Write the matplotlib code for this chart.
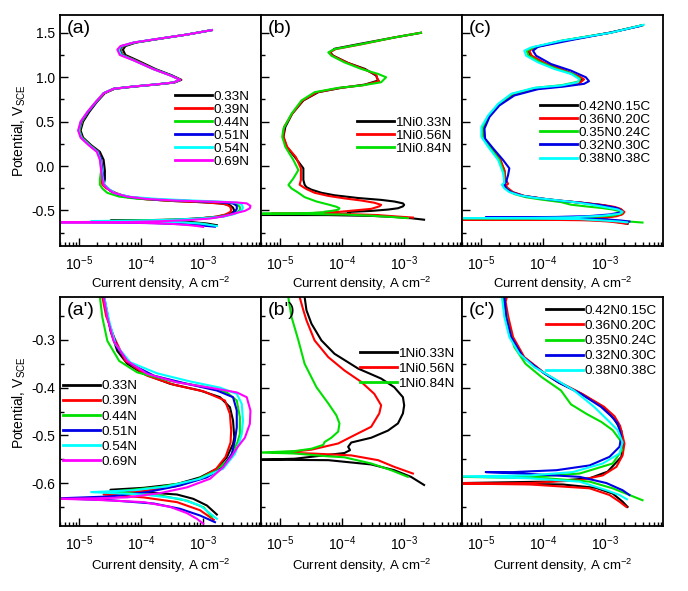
import matplotlib.pyplot as plt
import numpy as np
from matplotlib.ticker import MultipleLocator, LogLocator, FormatStrFormatter, NullFormatter

plt.rcParams['font.family'] = ['Liberation Sans', 'DejaVu Sans']
plt.rcParams['mathtext.fontset'] = 'custom'
plt.rcParams['mathtext.rm'] = 'Liberation Sans'
plt.rcParams['mathtext.it'] = 'Liberation Sans:italic'
plt.rcParams['axes.unicode_minus'] = False

# data: (log10 current density [A cm-2], potential [V_SCE])
# (a) series
labels_a = ['0.33N', '0.39N', '0.44N', '0.51N', '0.54N', '0.69N']
colors_a = ['black', '#ff0000', '#00e000', '#0000e6', '#00ffff', '#ff00ff']
c_033N = [(-2.86, 1.53), (-3.26, 1.48), (-3.72, 1.43), (-4.08, 1.39), (-4.25, 1.35), (-4.29, 1.31), (-4.25, 1.25),
          (-4.06, 1.19), (-3.76, 1.09), (-3.50, 1.02), (-3.35, 0.97), (-3.46, 0.94), (-3.72, 0.92), (-4.10, 0.895),
          (-4.42, 0.87), (-4.58, 0.82), (-4.71, 0.72), (-4.83, 0.61), (-4.93, 0.50), (-4.97, 0.40), (-4.93, 0.32),
          (-4.80, 0.235), (-4.66, 0.16), (-4.60, 0.07), (-4.58, -0.05), (-4.58, -0.15), (-4.60, -0.21), (-4.54, -0.246),
          (-4.49, -0.281), (-4.38, -0.323), (-4.22, -0.35), (-3.96, -0.371), (-3.53, -0.392), (-3.05, -0.406),
          (-2.73, -0.42), (-2.57, -0.441), (-2.52, -0.469), (-2.50, -0.504), (-2.52, -0.518), (-2.62, -0.546),
          (-2.78, -0.57), (-3.05, -0.588), (-3.42, -0.602), (-3.96, -0.61), (-4.49, -0.614), (-3.96, -0.619),
          (-3.42, -0.624), (-3.16, -0.633), (-2.94, -0.647), (-2.78, -0.666)]
c_039N = [(-2.86, 1.53), (-3.26, 1.48), (-3.73, 1.43), (-4.10, 1.39), (-4.29, 1.35), (-4.33, 1.31), (-4.29, 1.25),
          (-4.09, 1.19), (-3.78, 1.09), (-3.52, 1.02), (-3.36, 0.97), (-3.47, 0.94), (-3.73, 0.92), (-4.11, 0.895),
          (-4.43, 0.87), (-4.59, 0.82), (-4.72, 0.72), (-4.85, 0.61), (-4.95, 0.50), (-4.99, 0.40), (-4.95, 0.32),
          (-4.82, 0.235), (-4.68, 0.16), (-4.64, 0.07), (-4.63, -0.05), (-4.64, -0.15), (-4.62, -0.21), (-4.56, -0.25),
          (-4.43, -0.295), (-4.25, -0.344), (-3.90, -0.375), (-3.47, -0.394), (-2.99, -0.408), (-2.65, -0.427),
          (-2.57, -0.455), (-2.55, -0.49), (-2.56, -0.515), (-2.64, -0.545), (-2.79, -0.57), (-3.07, -0.592),
          (-3.45, -0.607), (-3.98, -0.617), (-4.60, -0.624), (-3.96, -0.63), (-3.42, -0.64), (-3.05, -0.657),
          (-2.83, -0.677)]
c_044N = [(-2.86, 1.53), (-3.26, 1.48), (-3.73, 1.43), (-4.10, 1.39), (-4.30, 1.35), (-4.34, 1.31), (-4.30, 1.25),
          (-4.10, 1.19), (-3.79, 1.09), (-3.52, 1.02), (-3.37, 0.97), (-3.48, 0.94), (-3.74, 0.92), (-4.12, 0.895),
          (-4.44, 0.87), (-4.60, 0.82), (-4.72, 0.72), (-4.85, 0.61), (-4.95, 0.50), (-4.99, 0.40), (-4.95, 0.32),
          (-4.82, 0.235), (-4.69, 0.16), (-4.65, 0.07), (-4.64, -0.05), (-4.66, -0.15), (-4.66, -0.21), (-4.62, -0.253),
          (-4.54, -0.302), (-4.35, -0.344), (-4.06, -0.368), (-3.53, -0.386), (-2.99, -0.398), (-2.62, -0.41),
          (-2.46, -0.427), (-2.41, -0.462), (-2.41, -0.497), (-2.45, -0.515), (-2.57, -0.546), (-2.78, -0.574),
          (-3.15, -0.595), (-3.69, -0.608), (-4.22, -0.615), (-4.50, -0.618), (-3.69, -0.626), (-3.26, -0.637),
          (-2.99, -0.651), (-2.86, -0.671)]
c_051N = [(-2.86, 1.53), (-3.26, 1.48), (-3.74, 1.43), (-4.11, 1.39), (-4.31, 1.35), (-4.35, 1.31), (-4.31, 1.25),
          (-4.11, 1.19), (-3.79, 1.09), (-3.52, 1.02), (-3.37, 0.97), (-3.48, 0.94), (-3.74, 0.92), (-4.12, 0.895),
          (-4.44, 0.87), (-4.60, 0.82), (-4.72, 0.72), (-4.85, 0.61), (-4.96, 0.50), (-5.00, 0.40), (-4.96, 0.32),
          (-4.83, 0.235), (-4.69, 0.16), (-4.64, 0.07), (-4.62, -0.05), (-4.60, -0.15), (-4.59, -0.21), (-4.51, -0.267),
          (-4.38, -0.316), (-4.17, -0.35), (-3.79, -0.375), (-3.26, -0.392), (-2.78, -0.406), (-2.52, -0.42),
          (-2.46, -0.448), (-2.46, -0.483), (-2.49, -0.511), (-2.54, -0.539), (-2.68, -0.567), (-2.94, -0.588),
          (-3.37, -0.605), (-3.90, -0.619), (-4.49, -0.628), (-5.32, -0.632), (-4.49, -0.636), (-3.79, -0.643),
          (-3.37, -0.654), (-3.05, -0.668), (-2.81, -0.682)]
c_054N = [(-2.86, 1.53), (-3.26, 1.48), (-3.74, 1.43), (-4.12, 1.39), (-4.32, 1.35), (-4.36, 1.31), (-4.32, 1.25),
          (-4.12, 1.19), (-3.80, 1.09), (-3.53, 1.02), (-3.37, 0.97), (-3.48, 0.94), (-3.74, 0.92), (-4.12, 0.895),
          (-4.44, 0.87), (-4.60, 0.82), (-4.73, 0.72), (-4.86, 0.61), (-4.97, 0.50), (-5.00, 0.40), (-4.96, 0.32),
          (-4.83, 0.235), (-4.70, 0.16), (-4.65, 0.07), (-4.63, -0.05), (-4.61, -0.15), (-4.59, -0.21), (-4.51, -0.26),
          (-4.41, -0.309), (-4.17, -0.347), (-3.74, -0.37), (-3.21, -0.387), (-2.73, -0.40), (-2.46, -0.413),
          (-2.38, -0.434), (-2.36, -0.469), (-2.38, -0.497), (-2.41, -0.511), (-2.49, -0.539), (-2.68, -0.57),
          (-3.05, -0.591), (-3.58, -0.607), (-4.11, -0.615), (-4.80, -0.619), (-3.96, -0.624), (-3.37, -0.633),
          (-3.05, -0.647), (-2.78, -0.675)]
c_069N = [(-2.86, 1.53), (-3.26, 1.48), (-3.74, 1.43), (-4.12, 1.39), (-4.33, 1.35), (-4.38, 1.31), (-4.34, 1.25),
          (-4.12, 1.19), (-3.80, 1.09), (-3.53, 1.02), (-3.37, 0.97), (-3.48, 0.94), (-3.74, 0.92), (-4.12, 0.895),
          (-4.44, 0.87), (-4.60, 0.82), (-4.73, 0.72), (-4.86, 0.61), (-4.97, 0.50), (-5.01, 0.40), (-4.97, 0.32),
          (-4.84, 0.235), (-4.71, 0.16), (-4.66, 0.07), (-4.64, -0.05), (-4.62, -0.15), (-4.60, -0.21), (-4.54, -0.253),
          (-4.44, -0.302), (-4.22, -0.344), (-3.90, -0.371), (-3.42, -0.389), (-2.89, -0.40), (-2.46, -0.41),
          (-2.30, -0.42), (-2.24, -0.448), (-2.25, -0.476), (-2.33, -0.505), (-2.45, -0.525), (-2.55, -0.545),
          (-2.68, -0.567), (-2.89, -0.591), (-3.26, -0.609), (-3.69, -0.621), (-4.22, -0.63), (-4.75, -0.632),
          (-5.32, -0.633), (-4.75, -0.635), (-3.95, -0.64), (-3.53, -0.65), (-3.26, -0.663), (-3.10, -0.675),
          (-3.00, -0.685)]

# (b) series
labels_b = ['1Ni0.33N', '1Ni0.56N', '1Ni0.84N']
colors_b = ['black', '#ff0000', '#00e000']
c_Ni033N = [(-2.73, 1.50), (-3.16, 1.447), (-3.69, 1.378), (-4.12, 1.32), (-4.19, 1.28), (-4.14, 1.242), (-3.90, 1.16),
            (-3.63, 1.093), (-3.45, 1.018), (-3.42, 0.962), (-3.63, 0.917), (-4.01, 0.88), (-4.38, 0.831),
            (-4.62, 0.738), (-4.80, 0.589), (-4.91, 0.44), (-4.94, 0.328), (-4.89, 0.216), (-4.76, 0.104),
            (-4.62, -0.026), (-4.62, -0.157), (-4.60, -0.21), (-4.57, -0.238), (-4.49, -0.266), (-4.33, -0.301),
            (-4.12, -0.329), (-3.74, -0.36), (-3.37, -0.381), (-3.16, -0.399), (-3.02, -0.42), (-3.00, -0.437),
            (-3.02, -0.454), (-3.10, -0.475), (-3.26, -0.49), (-3.53, -0.505), (-3.85, -0.515), (-3.90, -0.524),
            (-3.87, -0.531), (-3.96, -0.537), (-4.76, -0.549), (-5.32, -0.551), (-4.22, -0.552), (-3.53, -0.561),
            (-3.16, -0.573), (-2.89, -0.587), (-2.68, -0.604)]
c_Ni056N = [(-2.73, 1.50), (-3.16, 1.447), (-3.69, 1.37), (-4.10, 1.316), (-4.20, 1.279), (-4.15, 1.242), (-3.93, 1.167),
            (-3.66, 1.093), (-3.45, 1.03), (-3.44, 1.0), (-3.42, 0.97), (-3.40, 0.955), (-3.66, 0.91), (-4.03, 0.88),
            (-4.40, 0.831), (-4.63, 0.738), (-4.80, 0.589), (-4.93, 0.44), (-4.94, 0.33), (-4.88, 0.216),
            (-4.74, 0.10), (-4.66, -0.026), (-4.66, -0.157), (-4.68, -0.21), (-4.62, -0.238), (-4.57, -0.259),
            (-4.44, -0.301), (-4.22, -0.336), (-3.96, -0.364), (-3.69, -0.388), (-3.48, -0.413), (-3.37, -0.437),
            (-3.40, -0.454), (-3.53, -0.482), (-3.79, -0.499), (-4.06, -0.517), (-4.49, -0.53), (-4.76, -0.534),
            (-5.13, -0.536), (-4.49, -0.538), (-3.85, -0.542), (-3.42, -0.552), (-3.16, -0.566), (-2.86, -0.58)]
c_Ni084N = [(-2.73, 1.50), (-3.16, 1.447), (-3.69, 1.372), (-4.12, 1.316), (-4.22, 1.279), (-4.17, 1.242), (-3.96, 1.167),
            (-3.69, 1.093), (-3.42, 1.037), (-3.29, 0.999), (-3.37, 0.943), (-3.69, 0.906), (-4.06, 0.88),
            (-4.44, 0.831), (-4.65, 0.738), (-4.81, 0.589), (-4.94, 0.421), (-4.96, 0.328), (-4.91, 0.216),
            (-4.78, 0.067), (-4.70, -0.045), (-4.78, -0.138), (-4.86, -0.213), (-4.81, -0.252), (-4.70, -0.301),
            (-4.60, -0.35), (-4.41, -0.399), (-4.22, -0.433), (-4.09, -0.458), (-4.04, -0.475), (-4.06, -0.492),
            (-4.17, -0.505), (-4.28, -0.514), (-4.30, -0.52), (-4.49, -0.528), (-4.76, -0.533), (-5.32, -0.536),
            (-4.76, -0.538), (-4.22, -0.544), (-3.96, -0.546), (-3.53, -0.559), (-3.21, -0.573), (-2.94, -0.587)]

# (c) series
labels_c = ['0.42N0.15C', '0.36N0.20C', '0.35N0.24C', '0.32N0.30C', '0.38N0.38C']
colors_c = ['black', '#ff0000', '#00e000', '#0000e6', '#00ffff']
c_042N015C = [(-2.40, 1.585), (-2.92, 1.50), (-3.66, 1.413), (-4.14, 1.338), (-4.24, 1.298), (-4.20, 1.242),
              (-3.99, 1.16), (-3.70, 1.083), (-3.44, 1.01), (-3.36, 0.975), (-3.41, 0.94), (-3.69, 0.90),
              (-4.11, 0.875), (-4.49, 0.805), (-4.71, 0.69), (-4.88, 0.56), (-4.97, 0.43), (-4.97, 0.32),
              (-4.85, 0.207), (-4.69, 0.067), (-4.62, -0.05), (-4.61, -0.15), (-4.62, -0.21), (-4.58, -0.25),
              (-4.50, -0.294), (-4.31, -0.336), (-3.98, -0.37), (-3.74, -0.39), (-3.38, -0.413), (-3.04, -0.44),
              (-2.86, -0.465), (-2.74, -0.49), (-2.71, -0.517), (-2.74, -0.545), (-2.96, -0.576), (-3.25, -0.59),
              (-3.94, -0.597), (-5.32, -0.60), (-3.68, -0.603), (-3.15, -0.61), (-2.88, -0.622), (-2.72, -0.639),
              (-2.64, -0.65)]
c_036N020C = [(-2.40, 1.585), (-2.92, 1.50), (-3.64, 1.413), (-4.12, 1.338), (-4.22, 1.298), (-4.18, 1.242),
              (-3.97, 1.16), (-3.68, 1.083), (-3.42, 1.01), (-3.34, 0.975), (-3.40, 0.94), (-3.68, 0.90),
              (-4.10, 0.875), (-4.48, 0.805), (-4.71, 0.69), (-4.87, 0.56), (-4.96, 0.43), (-4.96, 0.32),
              (-4.84, 0.207), (-4.68, 0.067), (-4.62, -0.05), (-4.60, -0.15), (-4.56, -0.20), (-4.60, -0.22),
              (-4.56, -0.25), (-4.48, -0.294), (-4.30, -0.336), (-3.97, -0.37), (-3.74, -0.388), (-3.37, -0.413),
              (-3.02, -0.44), (-2.85, -0.46), (-2.76, -0.48), (-2.69, -0.517), (-2.72, -0.542), (-2.82, -0.566),
              (-3.04, -0.584), (-3.41, -0.594), (-4.21, -0.60), (-5.32, -0.601), (-4.20, -0.603), (-3.25, -0.611),
              (-2.93, -0.625), (-2.77, -0.639), (-2.66, -0.65)]
c_035N024C = [(-2.40, 1.585), (-2.93, 1.50), (-3.70, 1.41), (-4.15, 1.335), (-4.26, 1.298), (-4.23, 1.242),
              (-4.04, 1.167), (-3.78, 1.093), (-3.52, 1.037), (-3.40, 0.981), (-3.43, 0.95), (-3.70, 0.91),
              (-4.12, 0.88), (-4.49, 0.813), (-4.71, 0.70), (-4.87, 0.57), (-4.97, 0.44), (-4.97, 0.33),
              (-4.86, 0.216), (-4.70, 0.067), (-4.63, -0.08), (-4.62, -0.19), (-4.64, -0.21), (-4.60, -0.24),
              (-4.54, -0.28), (-4.46, -0.315), (-4.28, -0.35), (-4.02, -0.378), (-3.71, -0.406), (-3.55, -0.435),
              (-3.30, -0.455), (-3.06, -0.472), (-2.88, -0.489), (-2.76, -0.51), (-2.73, -0.531), (-2.88, -0.559),
              (-3.41, -0.58), (-3.94, -0.585), (-4.74, -0.587), (-5.32, -0.587), (-3.94, -0.59), (-3.25, -0.597),
              (-2.88, -0.611), (-2.61, -0.625), (-2.40, -0.636)]
c_032N030C = [(-2.43, 1.577), (-2.91, 1.503), (-3.55, 1.417), (-4.08, 1.342), (-4.16, 1.298), (-4.11, 1.242),
              (-3.87, 1.148), (-3.55, 1.074), (-3.31, 0.999), (-3.26, 0.955), (-3.34, 0.925), (-3.66, 0.895),
              (-4.08, 0.865), (-4.46, 0.794), (-4.70, 0.682), (-4.86, 0.552), (-4.94, 0.421), (-4.93, 0.309),
              (-4.80, 0.198), (-4.64, 0.067), (-4.54, -0.026), (-4.56, -0.10), (-4.59, -0.175), (-4.62, -0.21),
              (-4.59, -0.252), (-4.51, -0.294), (-4.32, -0.336), (-4.00, -0.368), (-3.76, -0.388), (-3.39, -0.413),
              (-3.07, -0.44), (-2.90, -0.46), (-2.80, -0.475), (-2.74, -0.503), (-2.77, -0.524), (-2.93, -0.545),
              (-3.25, -0.563), (-3.78, -0.573), (-4.48, -0.577), (-4.92, -0.577), (-4.21, -0.581), (-3.41, -0.587),
              (-2.98, -0.60), (-2.72, -0.615), (-2.61, -0.625)]
c_038N038C = [(-2.38, 1.59), (-2.91, 1.50), (-3.71, 1.41), (-4.19, 1.335), (-4.30, 1.298), (-4.27, 1.242),
              (-4.08, 1.167), (-3.82, 1.093), (-3.55, 1.037), (-3.42, 0.981), (-3.44, 0.943), (-3.71, 0.906),
              (-4.14, 0.88), (-4.51, 0.813), (-4.72, 0.70), (-4.88, 0.57), (-4.99, 0.44), (-4.99, 0.33),
              (-4.88, 0.216), (-4.72, 0.067), (-4.64, -0.08), (-4.62, -0.19), (-4.66, -0.21), (-4.62, -0.252),
              (-4.54, -0.294), (-4.38, -0.329), (-4.14, -0.357), (-3.82, -0.381), (-3.50, -0.406), (-3.18, -0.44),
              (-2.96, -0.468), (-2.80, -0.489), (-2.72, -0.515), (-2.77, -0.538), (-3.04, -0.559), (-3.52, -0.577),
              (-4.21, -0.584), (-5.32, -0.586), (-4.21, -0.59), (-3.41, -0.597), (-2.98, -0.615), (-2.77, -0.625),
              (-2.65, -0.634)]

curves_a = [c_033N, c_039N, c_044N, c_051N, c_054N, c_069N]
curves_b = [c_Ni033N, c_Ni056N, c_Ni084N]
curves_c = [c_042N015C, c_036N020C, c_035N024C, c_032N030C, c_038N038C]

# layout in pixels
W, H = 688, 591
fig = plt.figure(figsize=(W / 100, H / 100), dpi=100)
cols = [(60, 261), (261, 462), (462, 663)]
rows = [(15, 246), (297, 526)]

def rect(x0, y0, x1, y1):
    return [x0 / W, 1 - y1 / H, (x1 - x0) / W, (y1 - y0) / H]

panels = [(labels_a, colors_a, curves_a, ['(a)', "(a')"]),
          (labels_b, colors_b, curves_b, ['(b)', "(b')"]),
          (labels_c, colors_c, curves_c, ['(c)', "(c')"])]
# legend anchors (axes fraction)
leg_pos = [[(0.572, 0.675), (0.015, 0.638)],
           [(0.478, 0.561), (0.493, 0.78)],
           [(0.388, 0.63), (0.418, 0.967)]]
ylims = [(-0.9, 1.7), (-0.69, -0.21)]
ysteps = [(0.5, 0.25), (0.1, 0.05)]

for j, (labels, colors, curves, tags) in enumerate(panels):
    for r in range(2):
        ax = fig.add_axes(rect(cols[j][0], rows[r][0], cols[j][1], rows[r][1]))
        for lab, col, c in zip(labels, colors, curves):
            li, e = np.array(c).T
            ax.plot(10.0 ** li, e, color=col, lw=1.5, label=lab)
        ax.set_xscale('log')
        ax.set_xlim(5e-6, 8.5e-3)
        ax.set_ylim(*ylims[r])
        ax.xaxis.set_major_locator(LogLocator(base=10, numticks=10))
        ax.xaxis.set_minor_locator(LogLocator(base=10, subs=np.arange(2, 10), numticks=20))
        ax.xaxis.set_minor_formatter(NullFormatter())
        ax.yaxis.set_major_locator(MultipleLocator(ysteps[r][0]))
        ax.yaxis.set_minor_locator(MultipleLocator(ysteps[r][1]))
        ax.yaxis.set_major_formatter(FormatStrFormatter('%.1f'))
        ax.tick_params(which='both', direction='in', top=False, right=False, labelsize=10, width=1)
        ax.tick_params(which='major', length=6)
        ax.tick_params(which='minor', length=3)
        ax.tick_params(axis='x', pad=6)
        ax.tick_params(axis='y', labelleft=(j == 0))
        for s in ax.spines.values():
            s.set_linewidth(1.3)
        ax.text(0.035, 0.978, tags[r], transform=ax.transAxes, ha='left', va='top', fontsize=14)
        ax.set_xlabel('Current density, A cm$^{-2}$', fontsize=9.5)
        ax.xaxis.set_label_coords(0.5, -0.125 if r == 0 else -0.135)
        if j == 0:
            ax.set_ylabel('Potential, V$_\\mathrm{SCE}$', fontsize=10)
            ax.yaxis.set_label_coords(-0.16, 0.5 if r == 0 else 0.54)
        leg = ax.legend(loc='upper left', bbox_to_anchor=leg_pos[j][r], frameon=False, fontsize=9.7,
                        handlelength=2.75, handletextpad=0.1, labelspacing=0.05 if r == 0 else 0.2,
                        borderpad=0, borderaxespad=0)
        for line in leg.get_lines():
            line.set_linewidth(2)

fig.savefig('out.png', dpi=100)
